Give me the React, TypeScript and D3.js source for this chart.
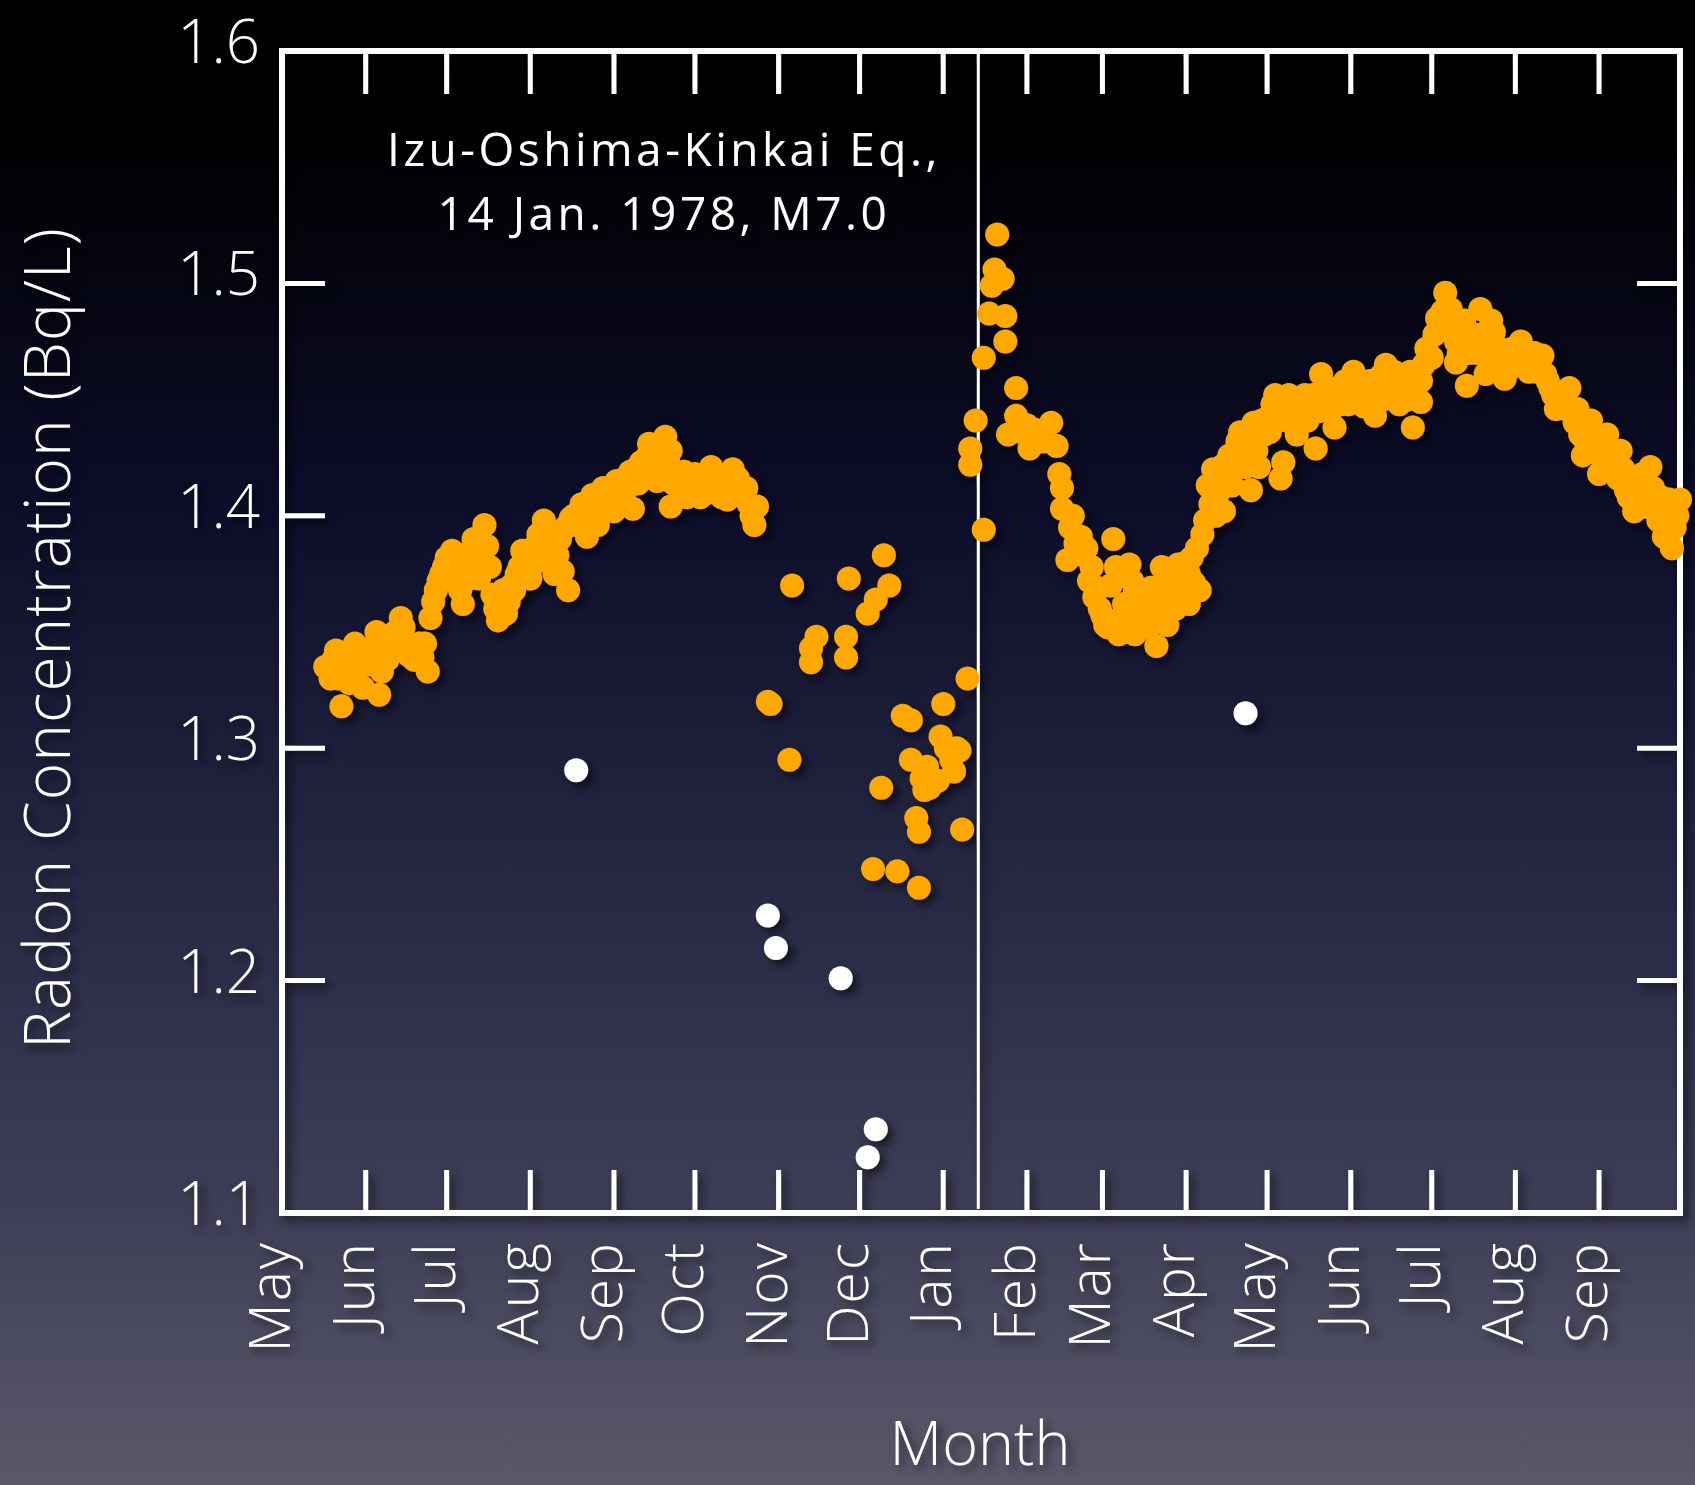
import * as d3 from "d3";
import React, { useRef, useEffect } from "react";

// radon readings, days counted from 1 May 1977
const beforeDays = [16, 17, 18, 19, 20, 21, 22, 23, 24, 25, 26, 27, 28, 29, 30, 31, 32, 33, 34, 35, 36, 37, 38, 39, 40, 41, 42, 43, 44, 45, 46, 47, 48, 49, 50, 51, 52, 53, 54, 55, 56, 57, 58, 59, 60, 61, 62, 63, 64, 65, 66, 67, 68, 69, 70, 71, 72, 73, 74, 75, 76, 77, 78, 79, 80, 81, 82, 83, 84, 85, 86, 87, 88, 89, 90, 91, 92, 93, 94, 95, 96, 97, 98, 99, 100, 101, 102, 103, 104, 105, 106, 107, 108, 109, 110, 111, 112, 113, 114, 115, 116, 117, 118, 119, 120, 121, 122, 123, 124, 125, 126, 127, 128, 129, 130, 131, 132, 133, 134, 135, 136, 137, 138, 139, 140, 141, 142, 143, 144, 144, 145, 146, 147, 148, 149, 150, 151, 152, 153, 154, 155, 156, 157, 158, 159, 160, 161, 162, 163, 164, 165, 166, 167, 168, 169, 170, 171, 172, 173, 174, 175, 176];
const beforeValues = [1.335, 1.335, 1.330, 1.338, 1.342, 1.330, 1.318, 1.336, 1.333, 1.328, 1.340, 1.345, 1.338, 1.335, 1.326, 1.340, 1.336, 1.343, 1.342, 1.350, 1.323, 1.333, 1.340, 1.338, 1.345, 1.342, 1.350, 1.348, 1.356, 1.352, 1.346, 1.340, 1.343, 1.338, 1.340, 1.345, 1.339, 1.345, 1.333, 1.356, 1.363, 1.368, 1.372, 1.375, 1.378, 1.382, 1.376, 1.385, 1.372, 1.380, 1.368, 1.362, 1.372, 1.380, 1.385, 1.390, 1.382, 1.373, 1.385, 1.396, 1.387, 1.378, 1.366, 1.360, 1.355, 1.362, 1.368, 1.358, 1.363, 1.370, 1.368, 1.375, 1.378, 1.385, 1.380, 1.383, 1.373, 1.386, 1.380, 1.392, 1.385, 1.398, 1.388, 1.380, 1.392, 1.375, 1.383, 1.390, 1.376, 1.395, 1.368, 1.399, 1.400, 1.396, 1.402, 1.405, 1.400, 1.391, 1.403, 1.409, 1.405, 1.396, 1.408, 1.412, 1.410, 1.405, 1.412, 1.402, 1.415, 1.408, 1.410, 1.416, 1.412, 1.419, 1.403, 1.420, 1.414, 1.423, 1.418, 1.425, 1.431, 1.428, 1.422, 1.415, 1.426, 1.420, 1.434, 1.424, 1.428, 1.404, 1.414, 1.418, 1.412, 1.410, 1.419, 1.408, 1.414, 1.412, 1.418, 1.412, 1.408, 1.412, 1.418, 1.410, 1.421, 1.412, 1.418, 1.414, 1.408, 1.412, 1.407, 1.415, 1.420, 1.412, 1.416, 1.410, 1.408, 1.412, 1.405, 1.400, 1.396, 1.404];

const gapDays = [180, 181, 188, 189, 196, 196, 198, 209, 209, 210, 217, 219, 220, 222, 223, 225, 228, 230, 233, 233, 235, 236, 236, 237, 238, 239, 240, 243, 244, 245, 246, 248, 249, 250, 251, 252, 254, 255, 255, 257];
const gapValues = [1.320, 1.319, 1.295, 1.370, 1.337, 1.343, 1.348, 1.339, 1.348, 1.373, 1.358, 1.248, 1.364, 1.283, 1.383, 1.370, 1.247, 1.314, 1.312, 1.295, 1.270, 1.240, 1.264, 1.287, 1.282, 1.292, 1.283, 1.286, 1.305, 1.319, 1.300, 1.295, 1.290, 1.300, 1.299, 1.265, 1.330, 1.429, 1.422, 1.441];

const afterDays = [260, 260, 262, 263, 264, 265, 267, 268, 268, 269, 272, 272, 274, 276, 277, 279, 282, 285, 287, 288, 289, 289, 291, 292, 293, 294, 296, 297, 298, 299, 300, 301, 302, 303, 304, 305, 306, 307, 308, 309, 310, 311, 312, 313, 314, 315, 316, 316, 317, 318, 319, 320, 321, 322, 323, 324, 325, 326, 327, 328, 329, 330, 331, 332, 333, 334, 335, 336, 336, 337, 338, 339, 340, 341, 342, 343, 344, 345, 346, 347, 348, 349, 349, 350, 351, 352, 353, 354, 355, 356, 357, 358, 359, 360, 361, 362, 363, 364, 365, 366, 367, 368, 369, 370, 371, 372, 373, 374, 375, 376, 377, 378, 379, 380, 381, 382, 383, 384, 385, 386, 387, 388, 389, 390, 391, 392, 393, 394, 395, 396, 397, 398, 399, 400, 401, 402, 403, 404, 405, 406, 407, 408, 409, 410, 411, 412, 413, 414, 415, 416, 417, 418, 419, 420, 421, 422, 422, 423, 424, 426, 427, 428, 429, 430, 431, 432, 433, 434, 435, 435, 436, 437, 438, 439, 440, 441, 442, 443, 444, 445, 446, 447, 448, 449, 450, 451, 452, 453, 454, 455, 456, 457, 458, 459, 460, 461, 462, 463, 464, 465, 466, 467, 468, 469, 470, 471, 472, 473, 474, 475, 476, 477, 478, 479, 480, 481, 482, 483, 484, 485, 486, 487, 488, 489, 490, 491, 492, 493, 494, 495, 496, 497, 498, 499, 500, 501, 502, 503, 504, 505, 506, 507, 508, 509, 510, 511, 512, 513, 514, 515, 516, 517, 518];
const afterValues = [1.468, 1.394, 1.487, 1.499, 1.506, 1.521, 1.502, 1.486, 1.475, 1.435, 1.455, 1.443, 1.436, 1.439, 1.429, 1.437, 1.432, 1.440, 1.430, 1.418, 1.412, 1.403, 1.381, 1.395, 1.400, 1.388, 1.391, 1.383, 1.386, 1.372, 1.378, 1.365, 1.369, 1.360, 1.357, 1.353, 1.352, 1.370, 1.390, 1.378, 1.349, 1.356, 1.362, 1.350, 1.379, 1.372, 1.368, 1.349, 1.358, 1.352, 1.364, 1.359, 1.352, 1.369, 1.360, 1.344, 1.365, 1.378, 1.372, 1.353, 1.370, 1.365, 1.360, 1.379, 1.372, 1.368, 1.380, 1.362, 1.375, 1.382, 1.371, 1.386, 1.368, 1.392, 1.398, 1.413, 1.405, 1.420, 1.400, 1.410, 1.415, 1.422, 1.402, 1.418, 1.426, 1.413, 1.425, 1.432, 1.436, 1.428, 1.421, 1.432, 1.411, 1.440, 1.428, 1.421, 1.441, 1.435, 1.442, 1.436, 1.448, 1.452, 1.441, 1.416, 1.423, 1.448, 1.452, 1.440, 1.446, 1.435, 1.450, 1.444, 1.452, 1.441, 1.447, 1.452, 1.429, 1.445, 1.461, 1.455, 1.449, 1.452, 1.446, 1.438, 1.455, 1.448, 1.450, 1.458, 1.448, 1.455, 1.462, 1.458, 1.449, 1.452, 1.447, 1.452, 1.458, 1.452, 1.443, 1.455, 1.460, 1.450, 1.465, 1.458, 1.453, 1.462, 1.455, 1.448, 1.459, 1.455, 1.450, 1.462, 1.438, 1.455, 1.460, 1.458, 1.449, 1.465, 1.472, 1.468, 1.478, 1.485, 1.480, 1.488, 1.496, 1.482, 1.489, 1.478, 1.466, 1.475, 1.470, 1.480, 1.484, 1.456, 1.470, 1.475, 1.478, 1.470, 1.489, 1.478, 1.461, 1.468, 1.484, 1.479, 1.466, 1.472, 1.470, 1.459, 1.462, 1.468, 1.472, 1.465, 1.468, 1.475, 1.470, 1.466, 1.462, 1.466, 1.470, 1.462, 1.465, 1.469, 1.461, 1.458, 1.455, 1.452, 1.446, 1.452, 1.448, 1.450, 1.446, 1.455, 1.444, 1.440, 1.446, 1.435, 1.426, 1.432, 1.430, 1.441, 1.436, 1.428, 1.418, 1.425, 1.428, 1.435, 1.420, 1.428, 1.421, 1.416, 1.428, 1.420, 1.411, 1.408, 1.415, 1.402, 1.410, 1.405, 1.418, 1.412, 1.405, 1.421, 1.412, 1.402, 1.398, 1.408, 1.391, 1.398, 1.407, 1.386, 1.395, 1.400, 1.407];

// excluded readings drawn in white
const outlierDays = [109, 180, 183, 207, 217, 220, 357];
const outlierValues = [1.2905, 1.228, 1.214, 1.201, 1.124, 1.136, 1.315];

const monthLabels = ["May", "Jun", "Jul", "Aug", "Sep", "Oct", "Nov", "Dec", "Jan", "Feb", "Mar", "Apr", "May", "Jun", "Jul", "Aug", "Sep"];
const yTickValues = [1.1, 1.2, 1.3, 1.4, 1.5, 1.6];
const quakeDay = 258;
const noteLines = ["Izu-Oshima-Kinkai Eq.,", "14 Jan. 1978, M7.0"];

const start = new Date(1977, 4, 1);
const end = new Date(1978, 9, 1);

const App = () => {
  const svgRef = useRef(null);
  const w = 1695;
  const h = 1485;
  const left = 282, right = 1680, top = 51, bottom = 1213;
  const tickLen = 43;

  useEffect(() => {
    const svg = d3.select(svgRef.current);
    svg.selectAll("*").remove();

    const x = d3.scaleTime().domain([start, end]).range([left, right]);
    const y = d3.scaleLinear().domain([1.1, 1.6]).range([bottom, top]);
    const dayX = (d) => x(d3.timeDay.offset(start, d));

    const defs = svg.append("defs");
    const grad = defs.append("linearGradient").attr("id", "bg")
      .attr("x1", 0).attr("y1", 0).attr("x2", 0).attr("y2", 1);
    [[0, "#000000"], [0.08, "#000000"], [0.34, "#0c0d29"], [0.6, "#272844"], [0.81, "#3d3e56"], [1, "#5a596b"]]
      .forEach(([o, c]) => grad.append("stop").attr("offset", o).attr("stop-color", c));
    const shadow = defs.append("filter").attr("id", "shadow")
      .attr("x", "-10%").attr("y", "-10%").attr("width", "130%").attr("height", "130%");
    shadow.append("feDropShadow").attr("dx", 5).attr("dy", 5).attr("stdDeviation", 4)
      .attr("flood-color", "#000").attr("flood-opacity", 0.55);

    svg.append("rect").attr("width", w).attr("height", h).attr("fill", "url(#bg)");

    const g = svg.append("g").attr("filter", "url(#shadow)");

    // earthquake marker
    g.append("line")
      .attr("x1", dayX(quakeDay)).attr("x2", dayX(quakeDay))
      .attr("y1", top).attr("y2", bottom - 4)
      .attr("stroke", "#fff").attr("stroke-width", 3);

    // frame + ticks
    const months = d3.timeMonth.range(start, end);
    const axes = g.append("g").attr("stroke", "#fff").attr("stroke-width", 5);
    months.slice(1).forEach((m) => {
      axes.append("line").attr("x1", x(m)).attr("x2", x(m)).attr("y1", top).attr("y2", top + tickLen);
      axes.append("line").attr("x1", x(m)).attr("x2", x(m)).attr("y1", bottom).attr("y2", bottom - tickLen);
    });
    yTickValues.slice(1, -1).forEach((v) => {
      axes.append("line").attr("x1", left).attr("x2", left + tickLen).attr("y1", y(v)).attr("y2", y(v));
      axes.append("line").attr("x1", right).attr("x2", right - tickLen).attr("y1", y(v)).attr("y2", y(v));
    });
    axes.append("rect").attr("x", left).attr("y", top)
      .attr("width", right - left).attr("height", bottom - top)
      .attr("fill", "none").attr("stroke-width", 6);

    // points
    const dots = g.append("g");
    const series = [
      [beforeDays, beforeValues, "#ffa800"],
      [gapDays, gapValues, "#ffa800"],
      [afterDays, afterValues, "#ffa800"],
      [outlierDays, outlierValues, "#ffffff"],
    ];
    series.forEach(([days, vals, col]) => {
      dots.selectAll(null)
        .data(days.map((d, i) => ({ d, v: vals[i] })))
        .enter()
        .append("circle")
        .attr("cx", (p) => dayX(p.d))
        .attr("cy", (p) => y(p.v))
        .attr("r", 12)
        .attr("fill", col);
    });

    // labels
    const lab = g.append("g").attr("fill", "#fff").attr("font-family", "'Open Sans', sans-serif").attr("font-weight", 300);
    lab.selectAll(".ytick")
      .data(yTickValues)
      .enter()
      .append("text")
      .attr("x", left - 22)
      .attr("y", (v) => y(v) + 12)
      .attr("text-anchor", "end")
      .attr("font-size", 60)
      .text((v) => v.toFixed(1));

    lab.selectAll(".xtick")
      .data(months)
      .enter()
      .append("text")
      .attr("transform", (m) => "translate(" + (x(m) + 8) + ",1241) rotate(-90)")
      .attr("text-anchor", "end")
      .attr("font-size", 57)
      .attr("letter-spacing", 2)
      .text((m, i) => monthLabels[i]);

    lab.append("text")
      .attr("x", 980).attr("y", 1465)
      .attr("text-anchor", "middle")
      .attr("font-size", 61)
      .text("Month");

    lab.append("text")
      .attr("transform", "translate(70,638) rotate(-90)")
      .attr("text-anchor", "middle")
      .attr("font-size", 64)
      .attr("letter-spacing", 1)
      .text("Radon Concentration (Bq/L)");

    const note = g.append("g").attr("fill", "#fff").attr("font-family", "'Open Sans', sans-serif")
      .attr("font-size", 46).attr("text-anchor", "middle").attr("letter-spacing", 3.5);
    noteLines.forEach((t, i) => {
      note.append("text").attr("x", 664).attr("y", 166 + i * 64).text(t);
    });
  });

  return (
    <svg
      ref={svgRef}
      width={w}
      height={h}
      style={{ position: "absolute", left: 0, top: 0, display: "block" }}
    />
  );
};

export default App;
